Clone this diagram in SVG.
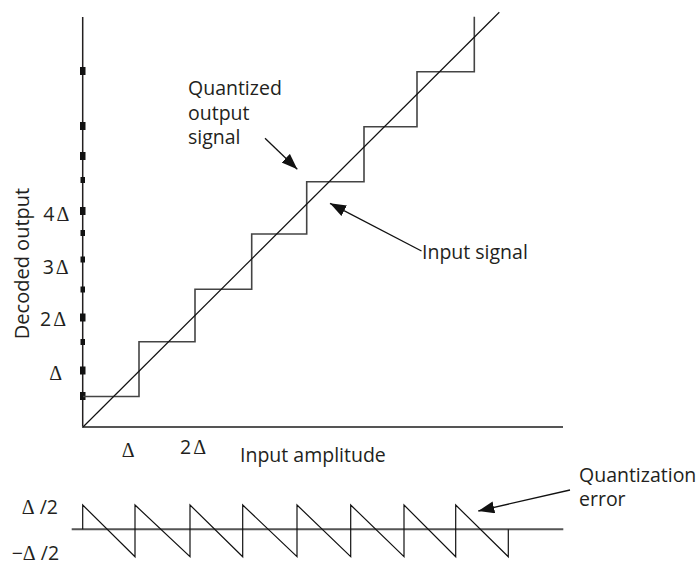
<svg xmlns="http://www.w3.org/2000/svg" width="699" height="564" viewBox="0 0 699 564">
<style>
.t{font-family:"Open Sans","Liberation Sans",sans-serif;font-size:19.5px;fill:#231f20}
.d{font-family:"Liberation Serif","DejaVu Serif",serif;font-size:20px}
.ax{stroke:#231f20;stroke-width:1.5;fill:none}
.gx{stroke:#555;stroke-width:2;fill:none}
.st{stroke:#444;stroke-width:1.6;fill:none}
.ln{stroke:#111;stroke-width:1.2;fill:none}
.tk{fill:#111}
.ld{stroke:#111;stroke-width:1.3;fill:none;marker-end:url(#ah)}
</style>
<defs>
<marker id="ah" markerUnits="userSpaceOnUse" markerWidth="18" markerHeight="14" refX="16" refY="6" orient="auto">
<path d="M0,0 L16,6 L0,12 Z" fill="#111"/>
</marker>
</defs>
<rect width="699" height="564" fill="#fff"/>
<g id="axes">
<line class="ax" x1="82.7" y1="17" x2="82.7" y2="427"/>
<line class="gx" x1="82" y1="427" x2="563" y2="427"/>
</g>
<g id="ticks">
<rect class="tk" x="80" y="67" width="5.5" height="8"/>
<rect class="tk" x="80" y="122" width="5.5" height="8"/>
<rect class="tk" x="80" y="152" width="5.5" height="8"/>
<rect class="tk" x="80.5" y="177" width="4.5" height="6"/>
<rect class="tk" x="80" y="207" width="5.5" height="8"/>
<rect class="tk" x="80.5" y="230" width="4.5" height="6"/>
<rect class="tk" x="80.5" y="256.5" width="4.5" height="6"/>
<rect class="tk" x="80.5" y="286.5" width="4.5" height="6"/>
<rect class="tk" x="80" y="313.5" width="5.5" height="8"/>
<rect class="tk" x="80.5" y="339" width="4.5" height="6"/>
<rect class="tk" x="80" y="366.5" width="5.5" height="8"/>
<rect class="tk" x="80" y="392" width="5.5" height="8"/>
</g>
<g id="quantized-output">
<polyline class="st" points="83,396.5 139,396.5 139,341.7 195,341.7 195,289.3 251.7,289.3 251.7,234 306.7,234 306.7,181.7 364,181.7 364,126.7 417,126.7 417,71.7 474.3,71.7 474.3,16.7"/>
</g>
<g id="input-signal">
<line class="ln" x1="83" y1="427" x2="499.3" y2="12.3"/>
</g>
<g id="quantization-error">
<line class="gx" x1="71.7" y1="529.3" x2="563.3" y2="529.3"/>
<polyline class="ln" points="82.7,529.3 82.7,505 135,556.7 135,505 190,556.7 190,505 242.7,556.7 242.7,505 297,556.7 297,505 350.7,556.7 350.7,505 404,556.7 404,505 455.7,556.7 455.7,505 508.3,556.7 508.3,529.3"/>
</g>
<g id="labels">
<text class="t" x="43.3" y="220.5">4<tspan class="d" dx="2">Δ</tspan></text>
<text class="t" x="42.7" y="274.3">3<tspan class="d" dx="2">Δ</tspan></text>
<text class="t" x="40" y="326">2<tspan class="d" dx="2">Δ</tspan></text>
<text class="t" x="49.3" y="380"><tspan class="d">Δ</tspan></text>
<text class="t" x="121.7" y="456.7"><tspan class="d">Δ</tspan></text>
<text class="t" x="180" y="454">2<tspan class="d" dx="2">Δ</tspan></text>
<text class="t" x="21.7" y="514"><tspan class="d">Δ</tspan> /2</text>
<text class="t" x="11.7" y="559.5">−<tspan class="d">Δ</tspan> /2</text>
<text class="t" style="font-size:20px" text-anchor="middle" transform="translate(28.5,263.5) rotate(-90)">Decoded output</text>
<text class="t" x="240" y="461.5">Input amplitude</text>
<text class="t" x="188" y="95">Quantized</text>
<text class="t" x="188" y="119.5">output</text>
<text class="t" x="188" y="144">signal</text>
<text class="t" x="422" y="259">Input signal</text>
<text class="t" x="579" y="481.5">Quantization</text>
<text class="t" x="579" y="506">error</text>
</g>
<g id="connectors">
<line class="ld" x1="265" y1="138.3" x2="297.3" y2="169.3"/>
<line class="ld" x1="421.5" y1="251" x2="330" y2="203.3"/>
<line class="ld" x1="570" y1="490" x2="478.3" y2="511"/>
</g>
</svg>
